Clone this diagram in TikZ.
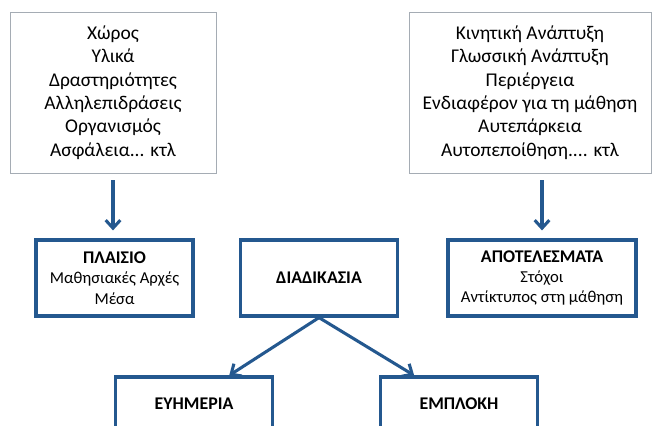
\documentclass[tikz,border=0pt]{standalone}
\usepackage{fontspec}
\setmainfont{Carlito}
\usetikzlibrary{positioning,calc,arrows.meta}
\definecolor{boxblue}{RGB}{36,88,143}
\definecolor{framegray}{RGB}{165,172,180}
\newcommand{\blocktitle}[1]{{\fontsize{13.4}{15}\selectfont\bfseries #1}}
\tikzset{
  listbox/.style={draw=framegray, line width=0.6pt, align=center,
    font=\fontsize{14.6}{17.6}\selectfont},
  blockbox/.style={draw=boxblue, line width=2.4pt, align=center,
    minimum width=117.75pt, minimum height=57pt,
    font=\fontsize{12.5}{15.2}\selectfont},
  flow/.style={->, draw=boxblue, line width=2.3pt},
  >={Straight Barb[length=6pt,width=11pt]}
}
\begin{document}
\begin{tikzpicture}[x=0.75pt, y=-0.75pt]
    \useasboundingbox[fill=white] (0,0) rectangle (652,425);

    % Πλαίσια με λίστες
    \node[listbox, minimum width=154.5pt, minimum height=120.75pt] (ctx) at (113,92.5)
        {Χώρος\\ Υλικά\\ Δραστηριότητες\\ Αλληλεπιδράσεις\\ Οργανισμός\\ Ασφάλεια... κτλ};
    \node[listbox, minimum width=181.5pt, minimum height=120.75pt] (out) at (530,92.5)
        {Κινητική Ανάπτυξη\\ Γλωσσική Ανάπτυξη\\ Περιέργεια\\ Ενδιαφέρον για τη μάθηση\\ Αυτεπάρκεια\\ Αυτοπεποίθηση.... κτλ};

    % Κεντρικά κουτιά
    \node[blockbox] (plaisio) at (114.5,278) {\blocktitle{ΠΛΑΙΣΙΟ}\\ Μαθησιακές Αρχές\\ Μέσα};
    \node[blockbox] (diad) at (319,278) {\blocktitle{ΔΙΑΔΙΚΑΣΙΑ}};
    \node[blockbox, minimum width=141pt] (apot) at (542,278) {\blocktitle{ΑΠΟΤΕΛΕΣΜΑΤΑ}\\ Στόχοι\\ Αντίκτυπος στη μάθηση};

    % Κάτω κουτιά
    \node[blockbox, minimum height=40.5pt] (euh) at (194,404) {\blocktitle{ΕΥΗΜΕΡΙΑ}};
    \node[blockbox, minimum height=40.5pt] (empl) at (459,404) {\blocktitle{ΕΜΠΛΟΚΗ}};

    % Βέλη
    \draw[flow, shorten <=5pt, shorten >=6pt] (ctx.south -| ctx.center) -- (ctx.south |- plaisio.north);
    \draw[flow, shorten <=5pt, shorten >=6pt] (out.south -| apot.north) -- (apot.north);
    \draw[flow] (diad.south) -- ($(euh.north west)!0.72!(euh.north east)$);
    \draw[flow] (diad.south) -- ($(empl.north west)!0.22!(empl.north east)$);
\end{tikzpicture}
\end{document}
